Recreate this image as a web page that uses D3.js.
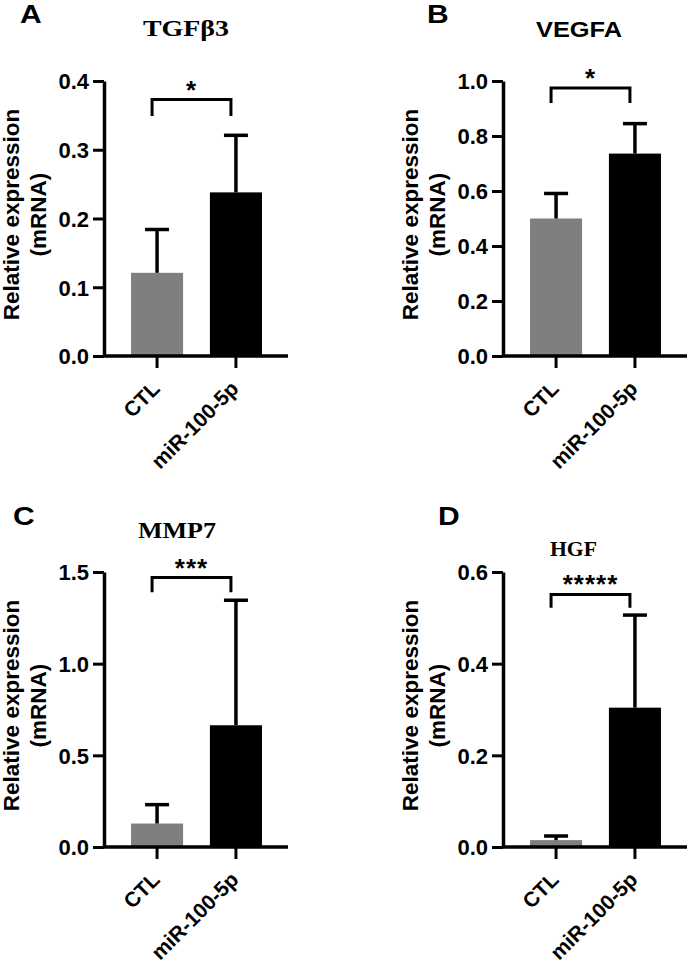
<!DOCTYPE html>
<html>
<head>
<meta charset="utf-8">
<script src="https://cdn.jsdelivr.net/npm/d3@7"></script>
<style>
body { margin: 0; background: #fff; }
svg text { font-family: "Liberation Sans", Arial, sans-serif; font-weight: bold; fill: #000; }
</style>
</head>
<body>
<div id="vis"></div>
<script>
// values
const panelLetters = ["A", "B", "C", "D"];
const genes = ["TGFβ3", "VEGFA", "MMP7", "HGF"];
const groups = ["CTL", "miR-100-5p"];
const meanCTL = [0.121, 0.500, 0.128, 0.015];
const meanMiR = [0.238, 0.736, 0.664, 0.304];
const sdCTL = [0.063, 0.091, 0.103, 0.009];
const sdMiR = [0.083, 0.109, 0.682, 0.202];
const yTicks = [[0, 0.1, 0.2, 0.3, 0.4], [0, 0.2, 0.4, 0.6, 0.8, 1.0], [0, 0.5, 1.0, 1.5], [0, 0.2, 0.4, 0.6]];
const stars = ["*", "*", "***", "*****"];
const bracketTop = [0.373, 0.975, 1.47, 0.551];
const bracketLeg = [0.349, 0.92, 1.39, 0.522];

const ctx = {
    w: 687,
    h: 964,
    plotW: 184,
    plotH: 275,
    x0: [104, 503, 104, 503],
    yTop: [81, 81, 572, 572],
    barColors: ["#7f7f7f", "#000000"],
    titleSerif: [true, false, true, true],
    titleSize: [24, 22, 23, 22],
    titleLen: [86, 86, 78, 47],
    titleCx: [186, 579, 177, 573.5],
    titleY: [36, 37, 538, 556],
    letterX: [20, 427, 13, 438],
    letterY: [23, 23, 525, 525]
};

const svg = d3.select("#vis").append("svg")
    .attr("width", ctx.w)
    .attr("height", ctx.h);

function drawPanel(i) {
    const g = svg.append("g")
        .attr("transform", `translate(${ctx.x0[i]},${ctx.yTop[i]})`);
    const ticks = yTicks[i];
    const y = d3.scaleLinear()
        .domain([0, ticks[ticks.length - 1]])
        .range([ctx.plotH, 0]);
    const x = d3.scaleBand()
        .domain(groups)
        .range([1, ctx.plotW])
        .paddingInner(0.34)
        .paddingOuter(0.33);
    const means = [meanCTL[i], meanMiR[i]];
    const sds = [sdCTL[i], sdMiR[i]];
    const rows = groups.map((k, j) => ({ k: k, m: means[j], sd: sds[j], c: ctx.barColors[j] }));

    // bars
    g.selectAll("rect.bar")
        .data(rows)
        .enter()
        .append("rect")
        .attr("class", "bar")
        .attr("x", d => x(d.k))
        .attr("width", x.bandwidth())
        .attr("y", d => y(d.m))
        .attr("height", d => y(0) - y(d.m))
        .attr("fill", d => d.c);

    // error bars (upper only)
    const eb = g.selectAll("g.err")
        .data(rows)
        .enter()
        .append("g")
        .attr("class", "err")
        .attr("transform", d => `translate(${x(d.k) + x.bandwidth() / 2},0)`);
    eb.append("line")
        .attr("x1", 0).attr("x2", 0)
        .attr("y1", d => y(d.m))
        .attr("y2", d => y(d.m + d.sd))
        .attr("stroke", "#000").attr("stroke-width", 3.5);
    eb.append("line")
        .attr("x1", -12).attr("x2", 12)
        .attr("y1", d => y(d.m + d.sd))
        .attr("y2", d => y(d.m + d.sd))
        .attr("stroke", "#000").attr("stroke-width", 3.5);

    // y axis
    const ya = g.append("g")
        .call(d3.axisLeft(y).tickValues(ticks).tickFormat(d3.format(".1f"))
            .tickSize(11).tickSizeOuter(0).tickPadding(4));
    ya.select(".domain").attr("stroke-width", 3.5);
    ya.selectAll(".tick line").attr("stroke-width", 3);
    ya.selectAll("text").style("font-size", "22px").attr("dy", "0.36em");

    // x axis
    const xa = g.append("g")
        .attr("transform", `translate(0,${ctx.plotH})`)
        .call(d3.axisBottom(x).tickSize(12).tickSizeOuter(0));
    xa.select(".domain").remove();
    xa.append("line")
        .attr("x1", 0).attr("x2", ctx.plotW)
        .attr("stroke", "#000").attr("stroke-width", 3.5);
    xa.selectAll(".tick line").attr("stroke-width", 3);
    xa.selectAll("text")
        .style("font-size", "21px")
        .style("text-anchor", "end")
        .attr("x", 0).attr("y", 0).attr("dy", 0)
        .attr("transform", "translate(4,34) rotate(-45)");

    // y label
    const yl = g.append("text")
        .attr("transform", `translate(-85,${ctx.plotH / 2 - 4}) rotate(-90)`)
        .style("text-anchor", "middle")
        .style("font-size", "22.5px");
    yl.append("tspan").attr("x", 0).attr("y", 0).text("Relative expression");
    yl.append("tspan").attr("x", 0).attr("y", 27).text("(mRNA)");

    // significance bracket
    const bx1 = x(groups[0]) + x.bandwidth() / 2 - 5;
    const bx2 = x(groups[1]) + x.bandwidth() / 2 - 5;
    g.append("path")
        .attr("d", `M${bx1},${y(bracketLeg[i])}V${y(bracketTop[i])}H${bx2}V${y(bracketLeg[i])}`)
        .attr("fill", "none")
        .attr("stroke", "#000")
        .attr("stroke-width", 3);
    g.append("text")
        .attr("x", (bx1 + bx2) / 2)
        .attr("y", y(bracketTop[i]) - 1)
        .style("text-anchor", "middle")
        .style("font-size", "26px")
        .style("letter-spacing", "1px")
        .text(stars[i]);

    // gene title
    svg.append("text")
        .attr("x", ctx.titleCx[i])
        .attr("y", ctx.titleY[i])
        .style("text-anchor", "middle")
        .style("font-family", ctx.titleSerif[i] ? "'Liberation Serif', 'Times New Roman', serif" : null)
        .style("font-size", ctx.titleSize[i] + "px")
        .attr("textLength", ctx.titleLen[i])
        .attr("lengthAdjust", "spacingAndGlyphs")
        .text(genes[i]);

    // panel letter
    svg.append("text")
        .attr("x", ctx.letterX[i])
        .attr("y", ctx.letterY[i])
        .style("font-size", "25px")
        .attr("textLength", 21.7)
        .attr("lengthAdjust", "spacingAndGlyphs")
        .text(panelLetters[i]);
}

panelLetters.forEach((p, i) => drawPanel(i));
</script>
</body>
</html>
